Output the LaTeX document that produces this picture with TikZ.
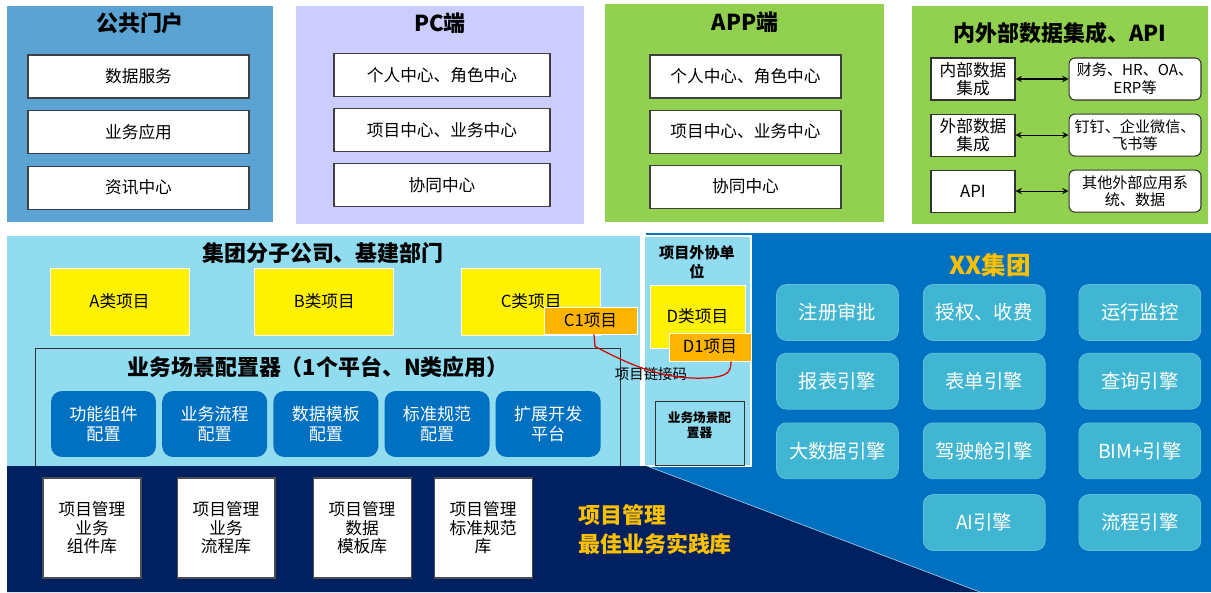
\documentclass[tikz,border=0pt]{standalone}
\usepackage{fontspec}
\setmainfont{Noto Sans CJK SC}
\usepackage{xcolor}
\usetikzlibrary{arrows, positioning, fit}

\definecolor{portal}{RGB}{91,163,210}
\definecolor{pcpanel}{RGB}{204,204,255}
\definecolor{apppanel}{RGB}{146,208,80}
\definecolor{ltblue}{RGB}{145,220,239}
\definecolor{cfgblue}{RGB}{0,112,192}
\definecolor{grpblue}{RGB}{0,112,192}
\definecolor{engine}{RGB}{65,182,210}
\definecolor{navy}{RGB}{0,32,96}
\definecolor{gold}{RGB}{255,192,0}
\definecolor{orangebox}{RGB}{255,180,0}

\begin{document}
\begin{tikzpicture}[
    x=0.02cm, y=-0.02cm,
    panel/.style={inner sep=0pt, outer sep=0pt},
    ttl/.style={font=\bfseries\fontsize{12.5}{15}\selectfont, align=center},
    wbox/.style={rectangle, draw=black!75, fill=white, line width=0.6pt, minimum height=0.86cm, inner sep=1pt, font=\fontsize{9.5}{11}\selectfont},
    sbox/.style={rectangle, draw=black!80, fill=white, line width=0.6pt, minimum width=1.68cm, minimum height=0.84cm, inner sep=1pt, align=center, font=\fontsize{9.5}{10.5}\selectfont},
    rbox/.style={sbox, rounded corners=0.12cm, minimum width=2.64cm, font=\fontsize{8.6}{10}\selectfont},
    ybox/.style={rectangle, fill=yellow, draw=white, line width=0.5pt, minimum width=2.78cm, minimum height=1.34cm, font=\fontsize{9.5}{11}\selectfont},
    obox/.style={rectangle, fill=orangebox, draw=white, line width=0.5pt, font=\fontsize{9.5}{11}\selectfont},
    cfgbox/.style={rectangle, fill=cfgblue, rounded corners=0.22cm, text=white, minimum width=2.1cm, minimum height=1.32cm, align=center, font=\fontsize{9.7}{11}\selectfont},
    engbox/.style={rectangle, fill=engine, draw=engine!85!white, rounded corners=0.2cm, text=white, minimum width=2.44cm, minimum height=1.12cm, font=\fontsize{11}{13}\selectfont},
    libbox/.style={rectangle, fill=white, draw=black!70, line width=0.6pt, minimum width=1.96cm, minimum height=2cm, align=center, font=\fontsize{9.5}{10.5}\selectfont},
    dbl/.style={<->, >=stealth, line width=0.6pt},
    lnk/.style={draw=red!85!black, line width=0.7pt}
]
\useasboundingbox (0,0) rectangle (1211,592);

% Top row: portals
\node[panel, fill=portal, fit={(7,6) (273,222)}] (pub) {};
\node[ttl] (pubT) at (140,23) {公共门户};
\node[wbox, minimum width=4.42cm] (pub1) at (138.5,76.5) {数据服务};
\node[wbox, minimum width=4.42cm, below=0.23cm of pub1] (pub2) {业务应用};
\node[wbox, minimum width=4.42cm, below=0.23cm of pub2] (pub3) {资讯中心};

\node[panel, fill=pcpanel, fit={(296,6) (584,224)}] (pc) {};
\node[ttl] (pcT) at (440,23) {PC端};
\node[wbox, minimum width=4.32cm] (pc1) at (442,75) {个人中心、角色中心};
\node[wbox, minimum width=4.32cm, below=0.22cm of pc1] (pc2) {项目中心、业务中心};
\node[wbox, minimum width=4.32cm, below=0.22cm of pc2] (pc3) {协同中心};

\node[panel, fill=apppanel, fit={(605,4) (884,222)}] (app) {};
\node[ttl] (appT) at (745,22) {APP端};
\node[wbox, minimum width=3.82cm] (app1) at (745.5,76.5) {个人中心、角色中心};
\node[wbox, minimum width=3.82cm, below=0.22cm of app1] (app2) {项目中心、业务中心};
\node[wbox, minimum width=3.82cm, below=0.22cm of app2] (app3) {协同中心};

% Data integration and API
\node[panel, fill=apppanel, fit={(912,6) (1208,224)}] (api) {};
\node[ttl] (apiT) at (1060,33) {内外部数据集成、API};
\node[sbox] (intl) at (973,79) {内部数据\\集成};
\node[sbox, below=0.26cm of intl] (extl) {外部数据\\集成};
\node[sbox, below=0.26cm of extl] (apil) {API};
\node[rbox, right=1.06cm of intl] (intr) {财务、HR、OA、\\ERP等};
\node[rbox, right=1.06cm of extl] (extr) {钉钉、企业微信、\\飞书等};
\node[rbox, right=1.06cm of apil] (apir) {其他外部应用系\\统、数据};
\draw[dbl] (intl) -- (intr);
\draw[dbl] (extl) -- (extr);
\draw[dbl] (apil) -- (apir);

% XX group background
\fill[grpblue] (646,233) rectangle (1211,592);

% Group companies
\node[panel, fill=ltblue, fit={(7,236) (640,466)}] (grp) {};
\node[ttl] (grpT) at (323,253) {集团分子公司、基建部门};
\node[ybox] (projA) at (119.5,301.5) {A类项目};
\node[ybox, right=1.3cm of projA] (projB) {B类项目};
\node[ybox, right=1.34cm of projB] (projC) {C类项目};
\node[obox, minimum width=1.86cm, minimum height=0.54cm] (c1) at (590.5,320.5) {C1项目};

\node[panel, draw=black!80, line width=0.5pt, fit={(35,348) (620,470)}] (cfg) {};
\node[ttl] (cfgT) at (318,367) {业务场景配置器（1个平台、N类应用）};
\node[cfgbox] (cfg1) at (103.5,424) {功能组件\\配置};
\node[cfgbox, right=0.11cm of cfg1] (cfg2) {业务流程\\配置};
\node[cfgbox, right=0.11cm of cfg2] (cfg3) {数据模板\\配置};
\node[cfgbox, right=0.11cm of cfg3] (cfg4) {标准规范\\配置};
\node[cfgbox, right=0.11cm of cfg4] (cfg5) {扩展开发\\平台};

% Outside partner
\node[panel, fill=ltblue, draw=white, line width=0.8pt, fit={(644,236) (751,466)}] (ext) {};
\node[font=\bfseries\fontsize{8.6}{10.6}\selectfont, align=center] (extT) at (697,262) {项目外协单\\位};
\node[ybox, minimum width=1.9cm, minimum height=1.26cm] (projD) at (697.5,316.5) {D类项目};
\node[obox, minimum width=1.64cm, minimum height=0.56cm] (d1) at (710,347) {D1项目};
\node[panel, fill=ltblue, draw=black!80, line width=0.5pt, fit={(655,401) (744,465)}] (extcfg) {};
\node[font=\bfseries\fontsize{7.2}{8.6}\selectfont, align=center] (extcfgT) at (699.5,425) {业务场景配\\置器};

% Link code
\node[font=\fontsize{8.2}{10}\selectfont] (code) at (651,374) {项目链接码};
\draw[lnk] ([xshift=0.07cm]c1.south) -- ++(1,12) .. controls (625,362) and (660,380) .. (705,378) .. controls (728,377) and (731,372) .. ([xshift=0.42cm]d1.south);

% XX group engines
\node[font=\bfseries\fontsize{14}{16}\selectfont, text=gold] (grpX) at (990,265) {XX集团};
\node[engbox] (e11) at (837.5,312.5) {注册审批};
\node[engbox, right=0.48cm of e11] (e12) {授权、收费};
\node[engbox, right=0.66cm of e12] (e13) {运行监控};
\node[engbox, below=0.24cm of e11] (e21) {报表引擎};
\node[engbox, below=0.24cm of e12] (e22) {表单引擎};
\node[engbox, below=0.24cm of e13] (e23) {查询引擎};
\node[engbox, below=0.26cm of e21] (e31) {大数据引擎};
\node[engbox, below=0.26cm of e22] (e32) {驾驶舱引擎};
\node[engbox, below=0.26cm of e23] (e33) {BIM+引擎};
\node[engbox, below=0.3cm of e32] (e42) {AI引擎};
\node[engbox, below=0.3cm of e33] (e43) {流程引擎};

% Best practice library
\fill[navy] (7,466) -- (647,466) -- (980,592) -- (7,592) -- cycle;
\draw[white!60!grpblue, line width=0.4pt] (647,466) -- (980,592);
\node[libbox] (lib1) at (92,528) {项目管理\\业务\\组件库};
\node[libbox, right=0.7cm of lib1] (lib2) {项目管理\\业务\\流程库};
\node[libbox, right=0.74cm of lib2] (lib3) {项目管理\\数据\\模板库};
\node[libbox, right=0.44cm of lib3] (lib4) {项目管理\\标准规范\\库};
\node[anchor=west, align=left, text=gold, font=\bfseries\fontsize{12.5}{16.5}\selectfont] (best) at (572,530) {项目管理\\最佳业务实践库};

\end{tikzpicture}
\end{document}
